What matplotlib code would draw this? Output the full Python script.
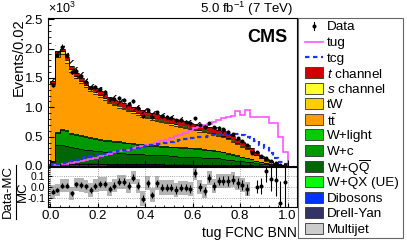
import numpy as np
import matplotlib
matplotlib.use('Agg')
import matplotlib.pyplot as plt
from matplotlib.patches import Rectangle
from matplotlib.lines import Line2D
from matplotlib.ticker import MultipleLocator

plt.rcParams['font.family'] = ['Liberation Sans', 'DejaVu Sans']
plt.rcParams['mathtext.fontset'] = 'custom'
plt.rcParams['mathtext.rm'] = 'Liberation Sans'
plt.rcParams['mathtext.it'] = 'Liberation Sans:italic'
plt.rcParams['axes.unicode_minus'] = False
plt.rcParams['hatch.linewidth'] = 0.8

# 50 bins of 0.02 on the tug FCNC BNN output, values in units of 10^3 events
edges = np.linspace(0, 1, 51)

multijet = [0.010, 0.020, 0.020, 0.020, 0.020, 0.019, 0.018, 0.018, 0.017, 0.017,
            0.016, 0.016, 0.015, 0.015, 0.015, 0.014, 0.014, 0.014, 0.013, 0.013,
            0.013, 0.012, 0.012, 0.012, 0.011, 0.011, 0.011, 0.010, 0.010, 0.010,
            0.009, 0.009, 0.009, 0.008, 0.008, 0.008, 0.007, 0.007, 0.006, 0.006,
            0.005, 0.005, 0.004, 0.003, 0.003, 0.002, 0.002, 0.001, 0.001, 0.000]
drellyan = [0.008, 0.014, 0.014, 0.014, 0.013, 0.013, 0.012, 0.012, 0.012, 0.011,
            0.011, 0.011, 0.010, 0.010, 0.010, 0.010, 0.009, 0.009, 0.009, 0.009,
            0.008, 0.008, 0.008, 0.008, 0.008, 0.007, 0.007, 0.007, 0.007, 0.007,
            0.006, 0.006, 0.006, 0.006, 0.005, 0.005, 0.005, 0.005, 0.004, 0.004,
            0.004, 0.003, 0.003, 0.003, 0.002, 0.002, 0.001, 0.001, 0.001, 0.000]
dibosons = [0.004, 0.008, 0.008, 0.008, 0.008, 0.008, 0.008, 0.007, 0.007, 0.007,
            0.007, 0.007, 0.007, 0.007, 0.006, 0.006, 0.006, 0.006, 0.006, 0.006,
            0.006, 0.006, 0.006, 0.006, 0.005, 0.005, 0.005, 0.005, 0.005, 0.005,
            0.005, 0.005, 0.005, 0.004, 0.004, 0.004, 0.004, 0.004, 0.003, 0.003,
            0.003, 0.003, 0.002, 0.002, 0.002, 0.001, 0.001, 0.001, 0.000, 0.000]
w_qx = [0.004, 0.010, 0.010, 0.010, 0.009, 0.009, 0.009, 0.009, 0.008, 0.008,
        0.008, 0.008, 0.008, 0.008, 0.008, 0.007, 0.007, 0.007, 0.007, 0.007,
        0.007, 0.007, 0.007, 0.006, 0.006, 0.006, 0.006, 0.006, 0.006, 0.006,
        0.005, 0.005, 0.005, 0.005, 0.005, 0.005, 0.004, 0.004, 0.004, 0.004,
        0.003, 0.003, 0.003, 0.002, 0.002, 0.002, 0.001, 0.001, 0.000, 0.000]
w_qq = [0.034, 0.298, 0.308, 0.288, 0.270, 0.251, 0.243, 0.234, 0.226, 0.217,
        0.208, 0.198, 0.200, 0.190, 0.181, 0.183, 0.174, 0.174, 0.165, 0.165,
        0.156, 0.157, 0.147, 0.148, 0.150, 0.141, 0.141, 0.132, 0.132, 0.132,
        0.125, 0.125, 0.115, 0.117, 0.108, 0.108, 0.100, 0.090, 0.083, 0.073,
        0.065, 0.056, 0.048, 0.040, 0.031, 0.023, 0.015, 0.008, 0.004, 0.002]
w_c = [0.025, 0.210, 0.250, 0.260, 0.230, 0.231, 0.221, 0.212, 0.202, 0.193,
       0.193, 0.194, 0.184, 0.184, 0.185, 0.175, 0.175, 0.166, 0.166, 0.156,
       0.157, 0.147, 0.157, 0.147, 0.148, 0.148, 0.148, 0.148, 0.149, 0.139,
       0.139, 0.140, 0.140, 0.130, 0.130, 0.121, 0.111, 0.102, 0.092, 0.083,
       0.074, 0.064, 0.055, 0.036, 0.027, 0.018, 0.013, 0.007, 0.003, 0.002]
w_light = [0.005, 0.020, 0.020, 0.020, 0.020, 0.019, 0.019, 0.018, 0.018, 0.017,
           0.017, 0.016, 0.016, 0.016, 0.015, 0.015, 0.015, 0.014, 0.014, 0.014,
           0.013, 0.013, 0.013, 0.013, 0.012, 0.012, 0.012, 0.012, 0.011, 0.011,
           0.011, 0.010, 0.010, 0.010, 0.010, 0.009, 0.009, 0.008, 0.008, 0.007,
           0.006, 0.006, 0.005, 0.004, 0.003, 0.002, 0.002, 0.001, 0.001, 0.000]
ttbar = [1.305, 1.275, 1.270, 1.140, 1.036, 0.941, 0.877, 0.832, 0.787, 0.758,
         0.713, 0.675, 0.630, 0.601, 0.576, 0.557, 0.532, 0.513, 0.493, 0.468,
         0.449, 0.439, 0.414, 0.405, 0.385, 0.375, 0.356, 0.346, 0.326, 0.317,
         0.307, 0.287, 0.288, 0.278, 0.268, 0.255, 0.246, 0.232, 0.214, 0.190,
         0.168, 0.150, 0.118, 0.091, 0.064, 0.043, 0.026, 0.013, 0.004, 0.001]
tw = [0.020, 0.050, 0.050, 0.045, 0.040, 0.035, 0.035, 0.030, 0.030, 0.030,
      0.030, 0.028, 0.028, 0.027, 0.027, 0.026, 0.026, 0.025, 0.025, 0.025,
      0.024, 0.024, 0.024, 0.023, 0.023, 0.023, 0.022, 0.022, 0.022, 0.021,
      0.021, 0.021, 0.020, 0.020, 0.020, 0.019, 0.018, 0.017, 0.016, 0.015,
      0.013, 0.012, 0.010, 0.008, 0.006, 0.005, 0.004, 0.002, 0.001, 0.001]
s_chan = [0.005, 0.015, 0.015, 0.015, 0.014, 0.014, 0.013, 0.013, 0.013, 0.012,
          0.012, 0.012, 0.012, 0.012, 0.012, 0.012, 0.012, 0.012, 0.012, 0.012,
          0.012, 0.012, 0.012, 0.012, 0.012, 0.012, 0.012, 0.012, 0.012, 0.012,
          0.012, 0.012, 0.012, 0.012, 0.012, 0.011, 0.011, 0.011, 0.010, 0.010,
          0.009, 0.008, 0.007, 0.006, 0.005, 0.004, 0.003, 0.002, 0.001, 0.001]
t_chan = [0.020, 0.030, 0.035, 0.040, 0.040, 0.040, 0.045, 0.045, 0.050, 0.050,
          0.055, 0.055, 0.060, 0.060, 0.065, 0.065, 0.070, 0.070, 0.070, 0.075,
          0.075, 0.075, 0.080, 0.080, 0.080, 0.080, 0.080, 0.080, 0.080, 0.080,
          0.080, 0.080, 0.080, 0.080, 0.080, 0.075, 0.075, 0.070, 0.070, 0.065,
          0.060, 0.050, 0.045, 0.035, 0.025, 0.018, 0.012, 0.008, 0.004, 0.002]

tug = [0.01, 0.02, 0.03, 0.04, 0.05, 0.06, 0.08, 0.10, 0.12, 0.14,
       0.17, 0.19, 0.21, 0.23, 0.26, 0.27, 0.28, 0.30, 0.32, 0.34,
       0.36, 0.38, 0.40, 0.43, 0.45, 0.48, 0.51, 0.53, 0.57, 0.60,
       0.64, 0.67, 0.70, 0.72, 0.75, 0.79, 0.81, 0.84, 0.85, 0.94,
       0.87, 0.96, 0.84, 0.84, 0.84, 0.84, 0.73, 0.73, 0.50, 0.23]
tcg = [0.01, 0.03, 0.05, 0.07, 0.09, 0.11, 0.13, 0.15, 0.17, 0.18,
       0.20, 0.21, 0.23, 0.24, 0.26, 0.27, 0.28, 0.30, 0.31, 0.33,
       0.34, 0.36, 0.37, 0.38, 0.40, 0.41, 0.43, 0.44, 0.46, 0.47,
       0.48, 0.49, 0.50, 0.51, 0.52, 0.53, 0.54, 0.55, 0.55, 0.55,
       0.53, 0.50, 0.47, 0.42, 0.36, 0.30, 0.22, 0.14, 0.07, 0.03]

data = [1.375, 1.892, 2.026, 1.884, 1.598, 1.620, 1.530, 1.437, 1.329, 1.337,
        1.308, 1.257, 1.147, 1.145, 1.155, 1.124, 1.054, 1.101, 0.993, 0.846,
        0.952, 0.832, 0.911, 0.855, 0.835, 0.815, 0.776, 0.775, 0.755, 0.725,
        0.814, 0.700, 0.664, 0.726, 0.658, 0.655, 0.624, 0.581, 0.546, 0.476,
        0.418, 0.353, 0.219, 0.231, 0.171, 0.138, 0.086, 0.048, 0.017, 0.0094]

# relative MC uncertainty (hatched band / grey boxes)
mc_rel_unc = [0.065, 0.060, 0.060, 0.060, 0.062, 0.062, 0.063, 0.063, 0.064, 0.064,
              0.064, 0.065, 0.065, 0.065, 0.065, 0.066, 0.066, 0.066, 0.067, 0.067,
              0.067, 0.067, 0.068, 0.068, 0.068, 0.068, 0.068, 0.068, 0.068, 0.068,
              0.068, 0.068, 0.068, 0.068, 0.068, 0.068, 0.068, 0.068, 0.068, 0.068,
              0.068, 0.068, 0.0, 0.0, 0.0, 0.0, 0.0, 0.0, 0.0, 0.0]

stack = [
    ('Multijet', multijet, '#cccccc'),
    ('Drell-Yan', drellyan, '#333366'),
    ('Dibosons', dibosons, '#0033ff'),
    ('W+QX (UE)', w_qx, '#00ff00'),
    (r'W+Q$\overline{\mathrm{Q}}$', w_qq, '#006600'),
    ('W+c', w_c, '#009900'),
    ('W+light', w_light, '#00cc00'),
    (r't$\bar{\mathrm{t}}$', ttbar, '#ff9c00'),
    ('tW', tw, '#ffcc00'),
    (r'$s$ channel', s_chan, '#ffff33'),
    (r'$t$ channel', t_chan, '#cc0000'),
]

W, H = 407, 248
fig = plt.figure(figsize=(W / 100, H / 100), dpi=100)
ax = fig.add_axes([48 / W, 1 - 166 / H, 249 / W, 148 / H])
ax2 = fig.add_axes([48 / W, 1 - 207 / H, 249 / W, 40 / H])

centers = 0.5 * (edges[1:] + edges[:-1])
base = np.zeros(len(centers))
for name, vals, col in stack:
    top = base + np.array(vals)
    ax.stairs(top, edges, baseline=base, fill=True, color=col, lw=0)
    ax.stairs(top, edges, baseline=None, color='black', lw=0.5)
    base = top
mc = base
unc = mc * np.array(mc_rel_unc)
ax.bar(centers, 2 * unc, bottom=mc - unc, width=0.02, fill=False,
       hatch='///', edgecolor='black', lw=0)

ax.stairs(tug, edges, color='#ff55ff', lw=1.2)
ax.stairs(tcg, edges, color='#2233ee', lw=1.6, ls=(0, (2.0, 1.6)))

data = np.array(data)
derr = np.sqrt(data * 1000) / 1000
ax.errorbar(centers, data, yerr=derr, fmt='o', ms=1.9, color='black',
            elinewidth=0.8, capsize=0)

ax.set_xlim(-0.01, 1.04)
ax.set_ylim(0, 2.52)
ax.xaxis.set_major_locator(MultipleLocator(0.2))
ax.xaxis.set_minor_locator(MultipleLocator(0.04))
ax.yaxis.set_major_locator(MultipleLocator(0.5))
ax.yaxis.set_minor_locator(MultipleLocator(0.1))
ax.tick_params(which='both', direction='in', labelbottom=False, labelsize=9.5,
               top=False, right=False)
ax.tick_params(which='major', length=4)
ax.tick_params(which='minor', length=2)
ax.set_ylabel('Events/0.02', fontsize=10.5, loc='top')
ax.yaxis.set_label_coords(-0.09, 1.0)

# ratio panel
ratio = (data - mc) / mc
rerr = derr / mc
rel = np.array(mc_rel_unc)
ax2.bar(centers, 2 * rel, bottom=ratio - rel, width=0.02, color='#b4b4b4', lw=0)
ax2.errorbar(centers, ratio, yerr=rerr, fmt='o', ms=1.9, color='black',
             elinewidth=0.8, capsize=0)
ax2.set_xlim(-0.01, 1.04)
ax2.set_ylim(-0.19, 0.19)
ax2.xaxis.set_major_locator(MultipleLocator(0.2))
ax2.xaxis.set_minor_locator(MultipleLocator(0.04))
ax2.yaxis.set_major_locator(MultipleLocator(0.1))
ax2.yaxis.set_minor_locator(MultipleLocator(0.02))
ax2.grid(True, which='major', ls=':', color='#888888', lw=0.6)
ax2.tick_params(which='both', direction='in', top=False, right=False)
ax2.tick_params(axis='x', labelsize=9.5, pad=2)
ax2.tick_params(axis='y', labelsize=7.5, pad=2)
ax2.tick_params(which='major', length=3)
ax2.tick_params(which='minor', length=1.5)
ax2.set_xlabel('tug FCNC BNN', fontsize=10, loc='right', labelpad=3)

for a in (ax, ax2):
    for s in a.spines.values():
        s.set_linewidth(0.8)

# ratio y title as a fraction
fig.text(8 / W, 1 - 192 / H, 'Data-MC', rotation=90, ha='center', va='center', fontsize=9.5)
fig.text(23 / W, 1 - 192 / H, 'MC', rotation=90, ha='center', va='center', fontsize=9.5)
fig.add_artist(Line2D([15.5 / W, 15.5 / W], [1 - 165 / H, 1 - 219 / H], color='black', lw=0.8))

fig.text(48 / W, 1 - 13 / H, r'$\times10^{3}$', fontsize=9, ha='left', va='baseline')
fig.text(293 / W, 1 - 13 / H, r'5.0 fb$^{-1}$ (7 TeV)', fontsize=9.5, ha='right', va='baseline')
ax.text(0.96, 0.84, 'CMS', transform=ax.transAxes, fontsize=13, fontweight='bold',
        ha='right', va='baseline')

# legend
fig.add_artist(Rectangle((298 / W, 1 - 238 / H), 105 / W, 220 / H, transform=fig.transFigure,
                         fill=False, ec='#666666', lw=0.8))
entries = [('Data', 'data', None), ('tug', 'line', '#ff55ff'), ('tcg', 'dash', '#2233ee')]
for name, vals, col in stack[::-1]:
    entries.append((name, 'box', col))
pitch = 15.56
for i, (lab, kind, col) in enumerate(entries):
    yc = 26 + i * pitch
    fy = 1 - yc / H
    if kind == 'data':
        fig.add_artist(Line2D([314 / W, 314 / W], [1 - (yc - 4) / H, 1 - (yc + 4) / H],
                              color='black', lw=0.8))
        fig.add_artist(Line2D([314 / W], [fy], marker='o', ms=1.9, color='black'))
    elif kind == 'line':
        fig.add_artist(Line2D([305 / W, 323 / W], [fy, fy], color=col, lw=1.2))
    elif kind == 'dash':
        fig.add_artist(Line2D([305 / W, 323 / W], [fy, fy], color=col, lw=1.6,
                              ls=(0, (2.0, 1.6))))
    else:
        fig.add_artist(Rectangle((305 / W, 1 - (yc + 5.5) / H), 18 / W, 11 / H,
                                 transform=fig.transFigure, fc=col, ec='#333333', lw=0.6))
    fig.text(327 / W, fy, lab, fontsize=9.7, ha='left', va='center_baseline')

fig.savefig('out.png', dpi=100)
